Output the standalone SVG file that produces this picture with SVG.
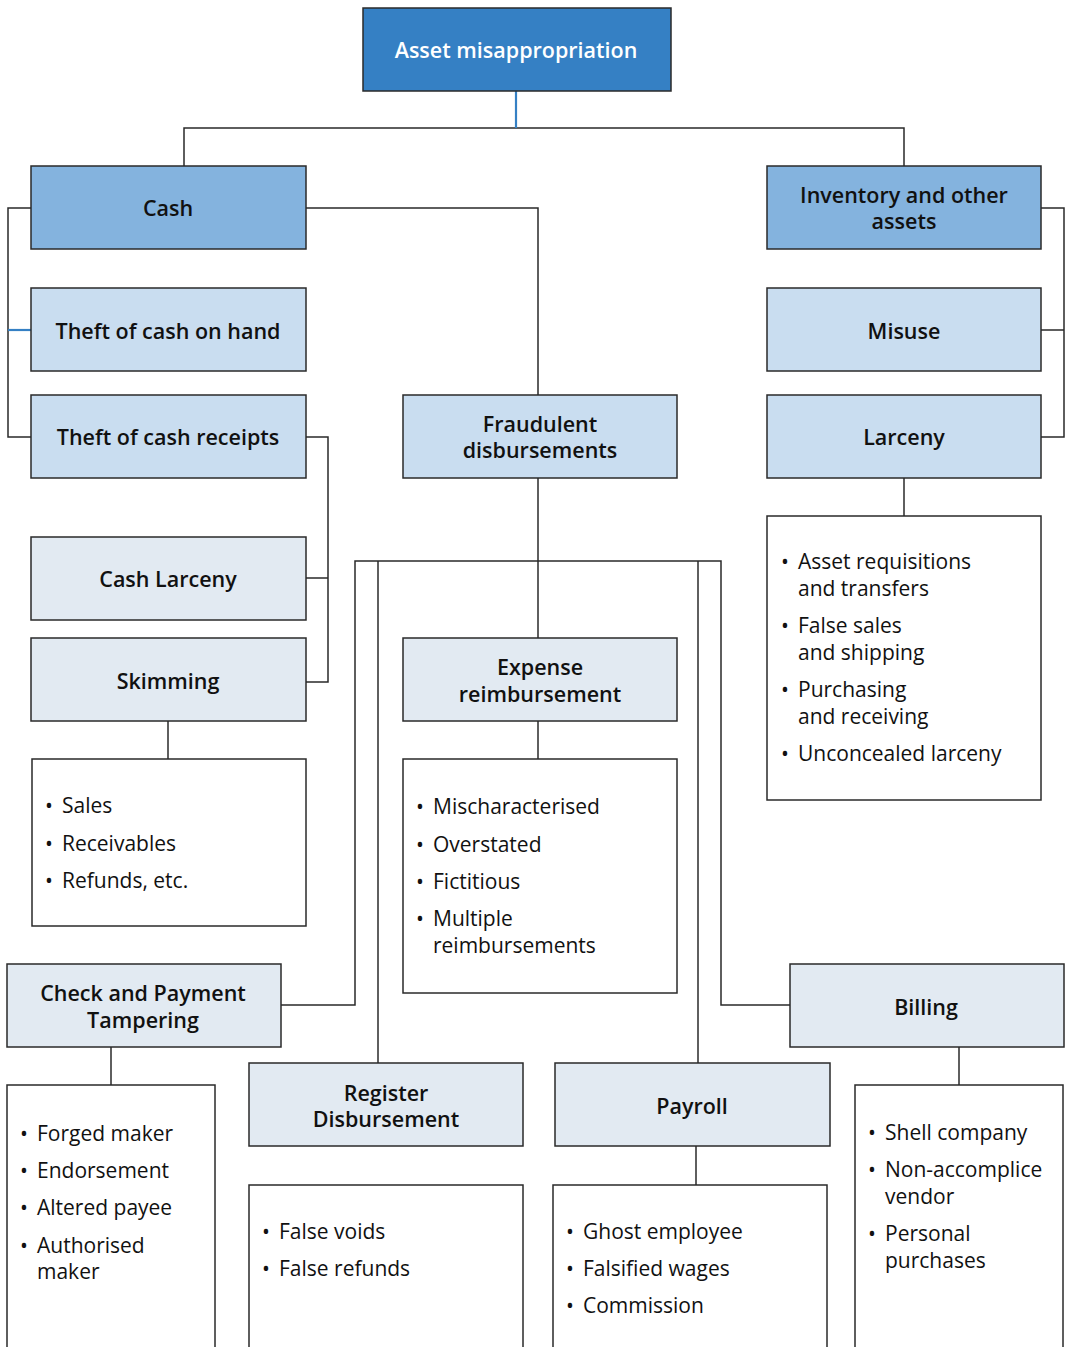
<svg xmlns="http://www.w3.org/2000/svg" width="1065" height="1347" viewBox="0 0 1065 1347">
<style>
.box{stroke:#2a2a2a;stroke-width:1.5}
.l0{fill:#3580c4}
.l1{fill:#84b3de}
.l2{fill:#c9ddf0}
.l3{fill:#e2eaf2}
.lst{fill:#ffffff}
.t{font-family:"Open Sans","Noto Sans",sans-serif;font-weight:600;font-size:21.5px;fill:#111;text-anchor:middle}
.tw{fill:#ffffff}
.i{font-family:"Open Sans","Noto Sans",sans-serif;font-size:21px;fill:#111}
.b{font-size:21px}
.c{fill:none;stroke:#2a2a2a;stroke-width:1.5}
.cb{fill:none;stroke:#3580c4;stroke-width:2.2}
</style>
<rect width="1065" height="1347" fill="#ffffff"/>
<g id="connectors">
<path class="c" d="M184,166V128H904V166"/>
<path class="cb" d="M516,91V128"/>
<path class="c" d="M31,208H8V437H31"/>
<path class="cb" d="M8,330H31"/>
<path class="c" d="M306,208H538V395"/>
<path class="c" d="M1041,208H1064V437H1041M1041,330H1064"/>
<path class="c" d="M306,437H328V682H306M306,578H328"/>
<path class="c" d="M168,721V759"/>
<path class="c" d="M904,478V516"/>
<path class="c" d="M538,478V638"/>
<path class="c" d="M538,721V759"/>
<path class="c" d="M281,1005H355V561H721V1005H790"/>
<path class="c" d="M378,561V1063"/>
<path class="c" d="M698,561V1063"/>
<path class="c" d="M111,1047V1085"/>
<path class="c" d="M696,1146V1185"/>
<path class="c" d="M959,1047V1085"/>
</g>
<g id="n-root"><rect class="box l0" x="363" y="8" width="308" height="83"/><text class="t tw" x="516" y="58">Asset misappropriation</text></g>
<g id="n-cash"><rect class="box l1" x="31" y="166" width="275" height="83"/><text class="t" x="168" y="216">Cash</text></g>
<g id="n-inventory"><rect class="box l1" x="767" y="166" width="274" height="83"/><text class="t" x="904" y="203">Inventory and other<tspan x="904" y="229">assets</tspan></text></g>
<g id="n-cashonhand"><rect class="box l2" x="31" y="288" width="275" height="83"/><text class="t" x="168" y="339">Theft of cash on hand</text></g>
<g id="n-cashreceipts"><rect class="box l2" x="31" y="395" width="275" height="83"/><text class="t" x="168" y="445">Theft of cash receipts</text></g>
<g id="n-fraudulent"><rect class="box l2" x="403" y="395" width="274" height="83"/><text class="t" x="540" y="432">Fraudulent<tspan x="540" y="458">disbursements</tspan></text></g>
<g id="n-misuse"><rect class="box l2" x="767" y="288" width="274" height="83"/><text class="t" x="904" y="339">Misuse</text></g>
<g id="n-larceny"><rect class="box l2" x="767" y="395" width="274" height="83"/><text class="t" x="904" y="445">Larceny</text></g>
<g id="n-cashlarceny"><rect class="box l3" x="31" y="537" width="275" height="83"/><text class="t" x="168" y="587">Cash Larceny</text></g>
<g id="n-skimming"><rect class="box l3" x="31" y="638" width="275" height="83"/><text class="t" x="168" y="689">Skimming</text></g>
<g id="n-expense"><rect class="box l3" x="403" y="638" width="274" height="83"/><text class="t" x="540" y="675">Expense<tspan x="540" y="702">reimbursement</tspan></text></g>
<g id="n-check"><rect class="box l3" x="7" y="964" width="274" height="83"/><text class="t" x="143" y="1001">Check and Payment<tspan x="143" y="1028">Tampering</tspan></text></g>
<g id="n-billing"><rect class="box l3" x="790" y="964" width="274" height="83"/><text class="t" x="926" y="1015">Billing</text></g>
<g id="n-register"><rect class="box l3" x="249" y="1063" width="274" height="83"/><text class="t" x="386" y="1101">Register<tspan x="386" y="1127">Disbursement</tspan></text></g>
<g id="n-payroll"><rect class="box l3" x="555" y="1063" width="275" height="83"/><text class="t" x="692" y="1114">Payroll</text></g>
<g id="n-skimming-list"><rect class="box lst" x="32" y="759" width="274" height="167"/>
<text class="i" y="813"><tspan class="b" x="45">•</tspan><tspan x="62">Sales</tspan></text>
<text class="i" y="851"><tspan class="b" x="45">•</tspan><tspan x="62">Receivables</tspan></text>
<text class="i" y="888"><tspan class="b" x="45">•</tspan><tspan x="62">Refunds, etc.</tspan></text></g>
<g id="n-expense-list"><rect class="box lst" x="403" y="759" width="274" height="234"/>
<text class="i" y="814"><tspan class="b" x="416">•</tspan><tspan x="433">Mischaracterised</tspan></text>
<text class="i" y="852"><tspan class="b" x="416">•</tspan><tspan x="433">Overstated</tspan></text>
<text class="i" y="889"><tspan class="b" x="416">•</tspan><tspan x="433">Fictitious</tspan></text>
<text class="i" y="926"><tspan class="b" x="416">•</tspan><tspan x="433">Multiple</tspan><tspan x="433" y="953">reimbursements</tspan></text></g>
<g id="n-larceny-list"><rect class="box lst" x="767" y="516" width="274" height="284"/>
<text class="i" y="569"><tspan class="b" x="781">•</tspan><tspan x="798">Asset requisitions</tspan><tspan x="798" y="596">and transfers</tspan></text>
<text class="i" y="633"><tspan class="b" x="781">•</tspan><tspan x="798">False sales</tspan><tspan x="798" y="660">and shipping</tspan></text>
<text class="i" y="697"><tspan class="b" x="781">•</tspan><tspan x="798">Purchasing</tspan><tspan x="798" y="724">and receiving</tspan></text>
<text class="i" y="761"><tspan class="b" x="781">•</tspan><tspan x="798">Unconcealed larceny</tspan></text></g>
<g id="n-check-list"><rect class="box lst" x="7" y="1085" width="208" height="280"/>
<text class="i" y="1141"><tspan class="b" x="20">•</tspan><tspan x="37">Forged maker</tspan></text>
<text class="i" y="1178"><tspan class="b" x="20">•</tspan><tspan x="37">Endorsement</tspan></text>
<text class="i" y="1215"><tspan class="b" x="20">•</tspan><tspan x="37">Altered payee</tspan></text>
<text class="i" y="1253"><tspan class="b" x="20">•</tspan><tspan x="37">Authorised</tspan><tspan x="37" y="1279">maker</tspan></text></g>
<g id="n-register-list"><rect class="box lst" x="249" y="1185" width="274" height="180"/>
<text class="i" y="1239"><tspan class="b" x="262">•</tspan><tspan x="279">False voids</tspan></text>
<text class="i" y="1276"><tspan class="b" x="262">•</tspan><tspan x="279">False refunds</tspan></text></g>
<g id="n-payroll-list"><rect class="box lst" x="553" y="1185" width="274" height="180"/>
<text class="i" y="1239"><tspan class="b" x="566">•</tspan><tspan x="583">Ghost employee</tspan></text>
<text class="i" y="1276"><tspan class="b" x="566">•</tspan><tspan x="583">Falsified wages</tspan></text>
<text class="i" y="1313"><tspan class="b" x="566">•</tspan><tspan x="583">Commission</tspan></text></g>
<g id="n-billing-list"><rect class="box lst" x="855" y="1085" width="208" height="280"/>
<text class="i" y="1140"><tspan class="b" x="868">•</tspan><tspan x="885">Shell company</tspan></text>
<text class="i" y="1177"><tspan class="b" x="868">•</tspan><tspan x="885">Non-accomplice</tspan><tspan x="885" y="1204">vendor</tspan></text>
<text class="i" y="1241"><tspan class="b" x="868">•</tspan><tspan x="885">Personal</tspan><tspan x="885" y="1268">purchases</tspan></text></g>
</svg>
